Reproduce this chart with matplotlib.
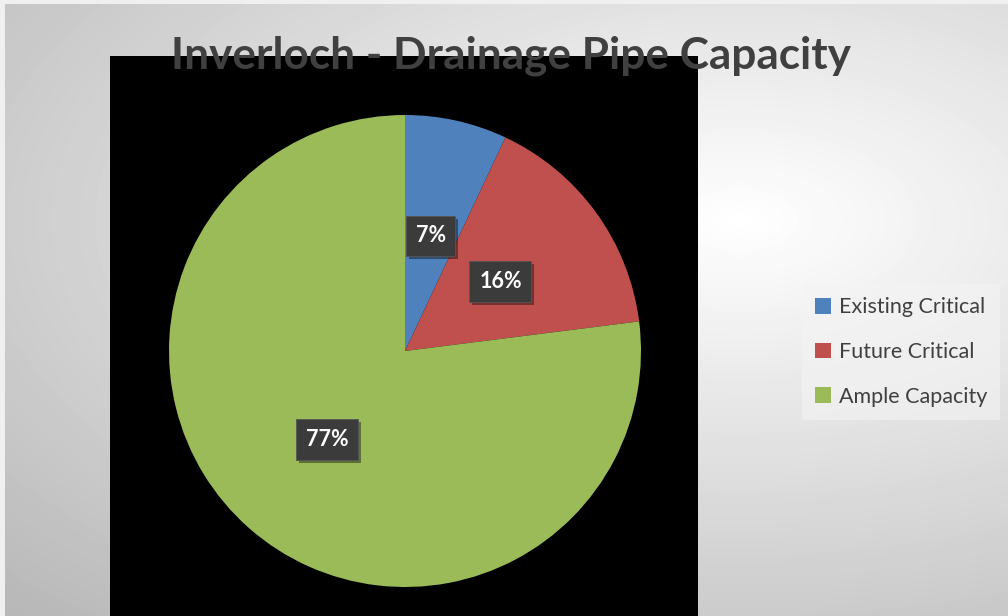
import numpy as np
import matplotlib.pyplot as plt
from matplotlib.patches import Patch, Rectangle
from matplotlib.transforms import IdentityTransform

plt.rcParams['font.family'] = ['Lato', 'DejaVu Sans']

title = "Inverloch - Drainage Pipe Capacity"
categories = ["Existing Critical", "Future Critical", "Ample Capacity"]
shares = [7, 16, 77]
colors = ["#4F81BD", "#C0504D", "#9BBB59"]

W, H = 1008, 616
fig = plt.figure(figsize=(W / 100, H / 100), dpi=100)

# soft radial grey background
bg = fig.add_axes([0, 0, 1, 1], zorder=-10)
yy, xx = np.mgrid[0:H, 0:W]
d = np.sqrt(((xx - 740) / 1000) ** 2 + ((yy - 220) / 520) ** 2)
shade = np.clip(255 - 68 * d, 0, 255) / 255
shade[:4, :] = 0.94
shade[:, :5] = 0.94
bg.imshow(shade, cmap='gray', vmin=0, vmax=1, aspect='auto', interpolation='bilinear')
bg.set_axis_off()

# black plot area
fig.patches.append(Rectangle((110 / W, 0), 588 / W, (H - 56) / H, transform=fig.transFigure,
                             facecolor='black', edgecolor='none', zorder=-5))

cx, cy, r = 405, 351, 236
ax = fig.add_axes([(cx - r) / W, (H - cy - r) / H, 2 * r / W, 2 * r / H])
wedges, texts, autotexts = ax.pie(shares, colors=colors, startangle=90, counterclock=False,
                                  autopct='%d%%', pctdistance=0.5, radius=1,
                                  wedgeprops=dict(linewidth=0))
ax.set_xlim(-1, 1)
ax.set_ylim(-1, 1)
ax.set_aspect('equal')
ax.set_axis_off()

for t in autotexts:
    t.set_color('white')
    t.set_fontsize(15.5)
    t.set_fontweight('bold')
    t.set_zorder(5)
    t.set_bbox(dict(boxstyle='square,pad=0.45', facecolor='#3b3b3b', edgecolor='#555555', linewidth=0.6))

# drop shadows behind the label boxes
fig.canvas.draw()
for t in autotexts:
    ext = t.get_bbox_patch().get_window_extent()
    ax.add_artist(Rectangle((ext.x0 + 3, ext.y0 - 3), ext.width, ext.height,
                            transform=IdentityTransform(), facecolor='black', alpha=0.4,
                            edgecolor='none', zorder=4))

fig.text(511 / W, 1 - 56 / H, title, ha='center', va='center', fontsize=31.8, fontweight='bold',
         color='#404040')

handles = [Patch(facecolor=c, edgecolor='none') for c in colors]
leg = fig.legend(handles, categories, loc='center', bbox_to_anchor=(901 / W, 1 - 352 / H),
                 fontsize=15.5, labelcolor='#404040', frameon=True, fancybox=False,
                 handlelength=0.75, handleheight=0.75, handletextpad=0.35, labelspacing=1.15,
                 borderpad=0.6)
leg.get_frame().set_facecolor('#f4f4f4')
leg.get_frame().set_alpha(0.6)
leg.get_frame().set_edgecolor('none')

fig.savefig('out.png', dpi=100)
